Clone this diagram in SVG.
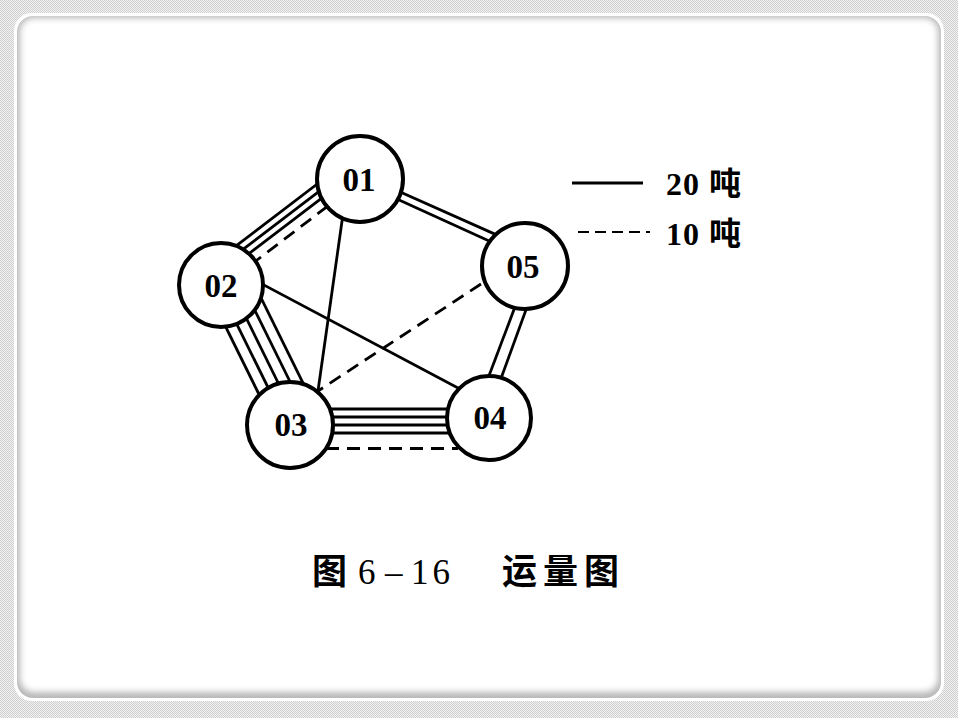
<svg xmlns="http://www.w3.org/2000/svg" width="958" height="718" viewBox="0 0 958 718">
<defs>
<pattern id="chk" width="2" height="2" patternUnits="userSpaceOnUse">
<rect width="2" height="2" fill="#f2f2f2"/>
<rect width="1" height="1" fill="#cfcfcf"/>
<rect x="1" y="1" width="1" height="1" fill="#cfcfcf"/>
</pattern>
<filter id="inset" x="-5%" y="-5%" width="110%" height="110%">
<feGaussianBlur stdDeviation="3"/>
</filter>
</defs>
<style>
.node circle{fill:#fff;stroke:#000;stroke-width:4}
.node text{font-family:"Liberation Serif","Noto Sans CJK SC",serif;font-size:33px;font-weight:bold;text-anchor:middle;fill:#000}
#connectors line{stroke:#000;stroke-width:2.8;fill:none}
#connectors line.d{stroke-dasharray:13 8}
.lg{font-family:"Liberation Serif","Noto Sans CJK SC",serif;font-size:32px;font-weight:bold;fill:#000}
.cap{font-family:"Liberation Serif","Noto Sans CJK SC",serif;font-size:35px;fill:#000}
</style>
<rect width="958" height="718" fill="url(#chk)"/>
<rect x="14" y="13" width="930" height="688" rx="18" fill="#ffffff"/>
<rect x="17" y="16" width="924" height="682" rx="16" fill="#b8b8b8"/>
<rect x="20" y="18" width="918" height="674" rx="14" fill="#ffffff" filter="url(#inset)"/>

<g id="connectors">
<!-- 01-02 -->
<line x1="346.7" y1="161.5" x2="207.7" y2="267.5"/>
<line x1="350.9" y1="167.1" x2="211.9" y2="273.1"/>
<line x1="355.2" y1="172.6" x2="216.2" y2="278.6"/>
<line class="d" x1="361.2" y1="180.6" x2="222.2" y2="286.6"/>
<!-- 01-05 -->
<line x1="375" y1="180.7" x2="515" y2="243.1"/>
<line x1="375" y1="189" x2="515" y2="252.8"/>
<!-- 05-04 -->
<line x1="521.4" y1="290" x2="483.6" y2="390"/>
<line x1="533.2" y1="290" x2="496.8" y2="390"/>
<!-- 02-03 -->
<line x1="208.2" y1="291.3" x2="277.2" y2="431.3"/>
<line x1="218.2" y1="286.4" x2="287.2" y2="426.4"/>
<line x1="228.2" y1="281.5" x2="297.2" y2="421.5"/>
<line x1="238.2" y1="276.5" x2="307.2" y2="416.5"/>
<line x1="248.1" y1="271.6" x2="317.1" y2="411.6"/>
<!-- 03-04 -->
<line x1="320" y1="409" x2="460" y2="409"/>
<line x1="320" y1="417" x2="460" y2="417"/>
<line x1="320" y1="425" x2="460" y2="425"/>
<line x1="320" y1="433" x2="460" y2="433"/>
<line class="d" x1="326" y1="448.5" x2="458" y2="448.5"/>
<!-- 01-03 -->
<line x1="345" y1="200" x2="316" y2="405"/>
<!-- 02-04 -->
<line x1="245" y1="275" x2="475" y2="397"/>
<!-- 05-03 -->
<line class="d" x1="481" y1="284" x2="318" y2="391"/>
</g>

<g id="n01" class="node"><circle cx="360" cy="179" r="43"/><text x="359" y="191">01</text></g>
<g id="n02" class="node"><circle cx="221" cy="285" r="42"/><text x="221" y="297">02</text></g>
<g id="n05" class="node"><circle cx="525" cy="266" r="43"/><text x="523" y="278">05</text></g>
<g id="n03" class="node"><circle cx="290" cy="425" r="43"/><text x="291" y="436">03</text></g>
<g id="n04" class="node"><circle cx="489" cy="418" r="42"/><text x="490" y="429">04</text></g>

<g id="legend">
<line x1="572" y1="183" x2="643" y2="183" stroke="#000" stroke-width="3"/>
<line x1="578" y1="232" x2="650" y2="232" stroke="#000" stroke-width="2" stroke-dasharray="11 6"/>
<text class="lg" x="666" y="195" letter-spacing="1">20 吨</text>
<text class="lg" x="666" y="245" letter-spacing="1">10 吨</text>
</g>

<g id="caption">
<text class="cap" x="312" y="584" font-weight="bold">图</text>
<text class="cap" x="358" y="584">6</text>
<text class="cap" x="385" y="584">–</text>
<text class="cap" x="411" y="584" letter-spacing="4">16</text>
<text class="cap" x="502" y="584" font-weight="bold" letter-spacing="6">运量图</text>
</g>
</svg>
